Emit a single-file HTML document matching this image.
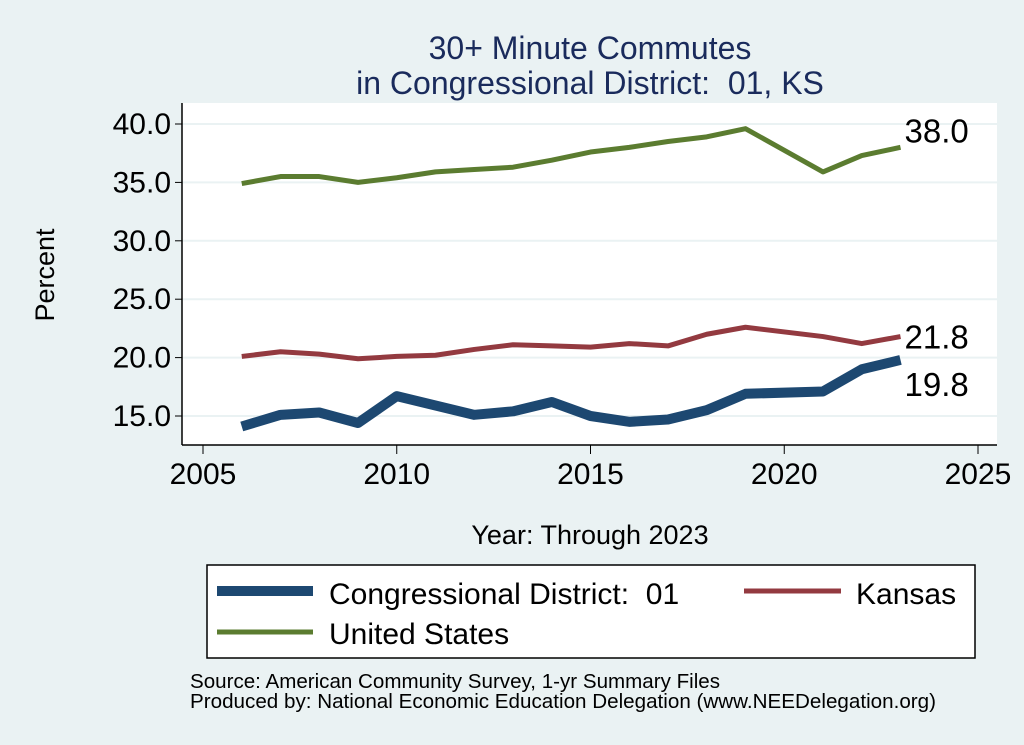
<!DOCTYPE html>
<html><head><meta charset="utf-8">
<style>
html,body{margin:0;padding:0;background:#eaf2f3;}
svg{display:block;font-family:"Liberation Sans",Arial,sans-serif;}
</style></head>
<body>
<svg id="chart" width="1024" height="745" viewBox="0 0 1024 745">
  <rect x="0" y="0" width="1024" height="745" fill="#eaf2f3"/>
  <text x="590" y="59" text-anchor="middle" font-size="32" fill="#1a2b5c">30+ Minute Commutes</text>
  <text x="590" y="94" text-anchor="middle" font-size="32" fill="#1a2b5c">in Congressional District:&#160; 01, KS</text>
  <rect x="182" y="103" width="815" height="342" fill="#ffffff"/>
  <g id="grid"></g>
  <g id="series"></g>
  <g id="axes"></g>
  <text transform="translate(54,275) rotate(-90)" text-anchor="middle" font-size="27" fill="#000">Percent</text>
  <text x="590" y="544" text-anchor="middle" font-size="27" fill="#000">Year: Through 2023</text>
  <g>
    <rect x="207" y="565" width="768" height="93" fill="#fff" stroke="#000" stroke-width="1.5"/>
    <line x1="217" y1="591" x2="313" y2="591" stroke="#1d4871" stroke-width="10"/>
    <text x="329" y="604" font-size="30">Congressional District:&#160; 01</text>
    <line x1="744" y1="591" x2="841" y2="591" stroke="#933a40" stroke-width="5"/>
    <text x="856" y="604" font-size="30">Kansas</text>
    <line x1="217" y1="632" x2="313" y2="632" stroke="#5b7c30" stroke-width="5"/>
    <text x="329" y="644" font-size="30">United States</text>
  </g>
  <text x="190" y="688" font-size="20" textLength="530" lengthAdjust="spacingAndGlyphs">Source: American Community Survey, 1-yr Summary Files</text>
  <text x="190" y="708" font-size="20" textLength="746" lengthAdjust="spacingAndGlyphs">Produced by: National Economic Education Delegation (www.NEEDelegation.org)</text>
</svg>
<script>
const years = [2006,2007,2008,2009,2010,2011,2012,2013,2014,2015,2016,2017,2018,2019,2021,2022,2023];
const usValues = [34.9,35.5,35.5,35.0,35.4,35.9,36.1,36.3,36.9,37.6,38.0,38.5,38.9,39.6,35.9,37.3,38.0];
const ksValues = [20.1,20.5,20.3,19.9,20.1,20.2,20.7,21.1,21.0,20.9,21.2,21.0,22.0,22.6,21.8,21.2,21.8];
const cdValues = [14.1,15.1,15.3,14.4,16.7,15.9,15.1,15.4,16.2,15.0,14.5,14.7,15.5,16.9,17.1,19.0,19.8];
const yTicks = [15,20,25,30,35,40];
const xTicks = [2005,2010,2015,2020,2025];

const NS = "http://www.w3.org/2000/svg";
function xScale(v){ return 203 + (v-2005)*(978-203)/20; }
function yScale(v){ return 416 + (v-15)*(124-416)/25; }
function mk(tag, attrs, parent){ const e=document.createElementNS(NS,tag); for(const k in attrs) e.setAttribute(k,attrs[k]); parent.appendChild(e); return e; }

const grid=document.getElementById('grid'), axes=document.getElementById('axes'), series=document.getElementById('series');
yTicks.forEach(t=>{
  const y=yScale(t);
  const g=mk('line',{x1:182,x2:997,y1:y,y2:y,stroke:'#eaf2f3','stroke-width':2},grid);
  
  
  const tk=mk('line',{x1:175,x2:182,y1:y,y2:y,stroke:'#000','stroke-width':1},axes);
  
  
  const tx=mk('text',{x:171,y:y+10,'text-anchor':'end','font-size':30},axes);
  tx.textContent=t.toFixed(1);
  
  
});
xTicks.forEach(t=>{
  const x=xScale(t);
  const tk=mk('line',{x1:x,x2:x,y1:445,y2:454,stroke:'#000','stroke-width':1},axes);
  
  
  const tx=mk('text',{x:x,y:484,'text-anchor':'middle','font-size':30},axes);
  tx.textContent=t;
  
  
});
const ya=mk('line',{x1:182,x2:182,y1:103,y2:445,stroke:'#000','stroke-width':1.5},axes);


const xa=mk('line',{x1:182,x2:997,y1:445,y2:445,stroke:'#000','stroke-width':1.5},axes);



function drawSeries(vals,color,w,name,labelDy){
  const pts=years.map((yr,i)=>xScale(yr)+','+yScale(vals[i])).join(' ');
  const p=mk('polyline',{points:pts,fill:'none',stroke:color,'stroke-width':w,'stroke-linejoin':'round'},series);
  
  
  const last=vals[vals.length-1];
  const lx=xScale(years[years.length-1]), ly=yScale(last);
  const t=mk('text',{x:lx+4,y:ly+labelDy,'font-size':33},series);
  t.textContent=last.toFixed(1);
  
  
}
drawSeries(usValues,'#5b7c30',5,'us',-5);
drawSeries(ksValues,'#933a40',5,'kansas',12);
drawSeries(cdValues,'#1d4871',10,'district',36);
</script>
</body></html>
